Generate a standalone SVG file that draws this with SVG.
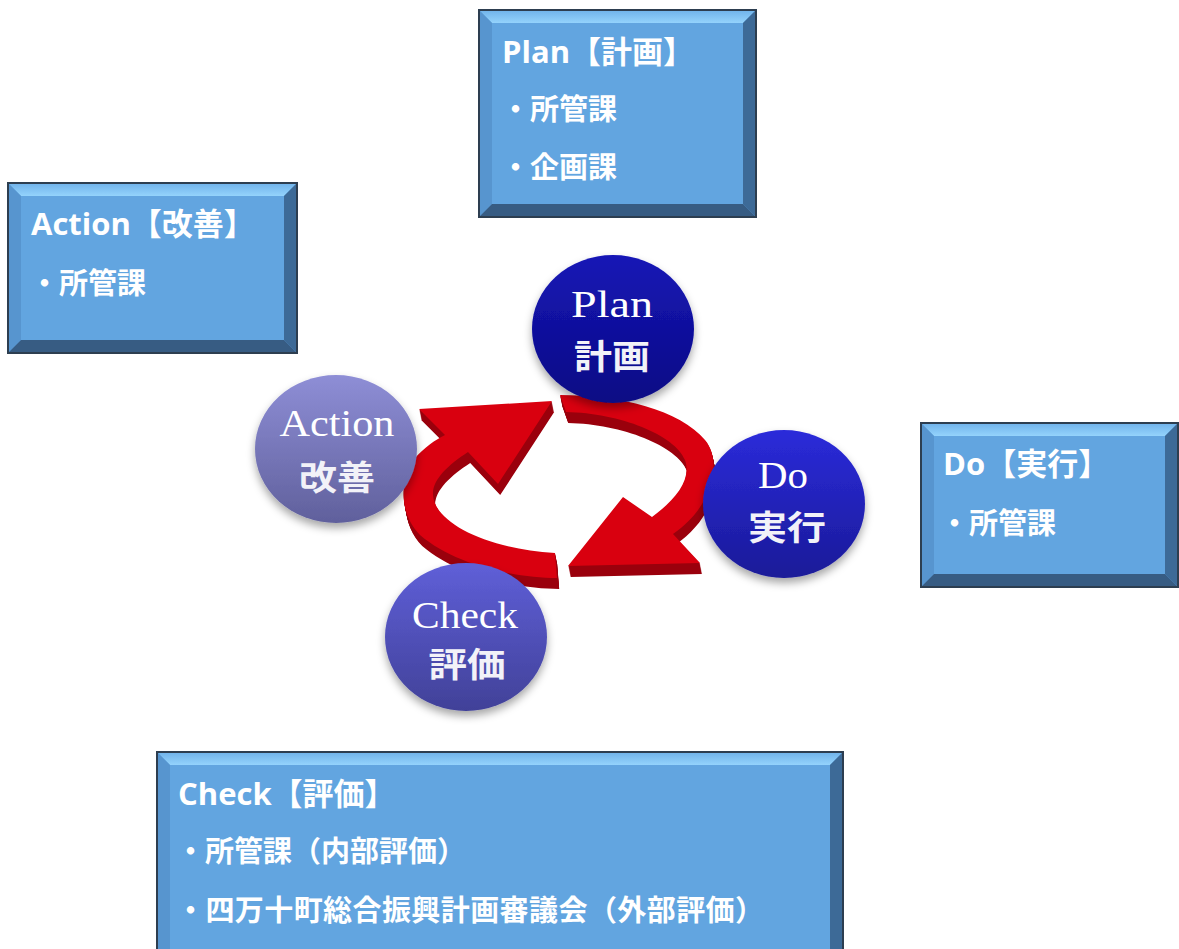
<svg xmlns="http://www.w3.org/2000/svg" width="1179" height="949" viewBox="0 0 1179 949">
<defs>
<style>
.face{fill:#62a5e0}
.btop{fill:url(#gTop)}
.bleft{fill:#5795cf}
.bright{fill:#3d6a97}
.bbot{fill:#375c83}
.bline{fill:none;stroke:#2d3e50;stroke-width:2}
.t1{font-family:"Open Sans","Noto Sans CJK JP",sans-serif;font-weight:700;font-size:31px;fill:#ffffff}
.t2{font-family:"Noto Sans CJK JP","Open Sans",sans-serif;font-weight:700;font-size:29px;fill:#ffffff}
.lat{font-family:"Liberation Serif","Noto Sans CJK JP",serif;font-size:37px;fill:#ffffff;text-anchor:middle}
.cjk{font-family:"Noto Sans CJK JP",sans-serif;font-weight:700;font-size:34px;fill:#f2f2f8;text-anchor:middle}
.red{fill:#d9000f}
.dark{fill:#9a000c}
</style>
<linearGradient id="gTop" x1="0" y1="0" x2="0" y2="1">
<stop offset="0" stop-color="#6fb2ea"/><stop offset="1" stop-color="#94d3fc"/>
</linearGradient>
<linearGradient id="gPlan" x1="0" y1="0" x2="0" y2="1">
<stop offset="0" stop-color="#1616b6"/><stop offset="1" stop-color="#0b0b84"/>
</linearGradient>
<linearGradient id="gAct" x1="0" y1="0" x2="0" y2="1">
<stop offset="0" stop-color="#8e8ed6"/><stop offset="1" stop-color="#60609c"/>
</linearGradient>
<linearGradient id="gDo" x1="0" y1="0" x2="0" y2="1">
<stop offset="0" stop-color="#2b2bda"/><stop offset="1" stop-color="#1a1a98"/>
</linearGradient>
<linearGradient id="gChk" x1="0" y1="0" x2="0" y2="1">
<stop offset="0" stop-color="#5f5fd8"/><stop offset="1" stop-color="#414198"/>
</linearGradient>
<filter id="sh" x="-20%" y="-20%" width="140%" height="150%">
<feDropShadow dx="0" dy="5" stdDeviation="4" flood-color="#000000" flood-opacity="0.35"/>
</filter>
<path id="arrowL" d="M555,553 L557,578 C515,578 455,565 420,535 C400,515 398,480 415,458 C425,447 435,440 445,435 L419,409 L552,401 L498,484 L468,452 C448,465 432,480 433,495 C434,520 480,548 555,553 Z"/>
<path id="arrowR" d="M560,395 C620,395 680,410 705,440 C722,460 715,505 673,534 L700,563 L568,566 L623,497 L652,517 C675,500 692,480 685,460 C675,435 620,413 566,412 Z"/>
<g id="extL" class="dark">
<use href="#arrowL" transform="translate(0.2,1)"/><use href="#arrowL" transform="translate(0.4,2)"/><use href="#arrowL" transform="translate(0.6,3)"/><use href="#arrowL" transform="translate(0.8,4)"/><use href="#arrowL" transform="translate(1,5)"/><use href="#arrowL" transform="translate(1.2,6)"/><use href="#arrowL" transform="translate(1.4,7)"/><use href="#arrowL" transform="translate(1.6,8)"/><use href="#arrowL" transform="translate(1.8,9)"/><use href="#arrowL" transform="translate(2,10)"/><use href="#arrowL" transform="translate(2.2,11)"/>
</g>
<g id="extR" class="dark">
<use href="#arrowR" transform="translate(0.2,1)"/><use href="#arrowR" transform="translate(0.4,2)"/><use href="#arrowR" transform="translate(0.6,3)"/><use href="#arrowR" transform="translate(0.8,4)"/><use href="#arrowR" transform="translate(1,5)"/><use href="#arrowR" transform="translate(1.2,6)"/><use href="#arrowR" transform="translate(1.4,7)"/><use href="#arrowR" transform="translate(1.6,8)"/><use href="#arrowR" transform="translate(1.8,9)"/><use href="#arrowR" transform="translate(2,10)"/><use href="#arrowR" transform="translate(2.2,11)"/>
</g>
</defs>
<rect width="1179" height="949" fill="#ffffff"/>

<g id="box-plan">
<rect class="face" x="479" y="10" width="277" height="207"/>
<polygon class="btop" points="479,10 756,10 743,23 492,23"/>
<polygon class="bleft" points="479,10 492,23 492,204 479,217"/>
<polygon class="bright" points="756,10 756,217 743,204 743,23"/>
<polygon class="bbot" points="479,217 756,217 743,204 492,204"/>
<rect class="bline" x="479" y="10" width="277" height="207"/>
<text class="t1" x="502" y="63">Plan【計画】</text>
<text class="t2" x="501" y="120">・所管課</text>
<text class="t2" x="501" y="178">・企画課</text>
</g>

<g id="box-action">
<rect class="face" x="8" y="183" width="289" height="170"/>
<polygon class="btop" points="8,183 297,183 284,196 21,196"/>
<polygon class="bleft" points="8,183 21,196 21,340 8,353"/>
<polygon class="bright" points="297,183 297,353 284,340 284,196"/>
<polygon class="bbot" points="8,353 297,353 284,340 21,340"/>
<rect class="bline" x="8" y="183" width="289" height="170"/>
<text class="t1" x="31" y="235">Action【改善】</text>
<text class="t2" x="30" y="294">・所管課</text>
</g>

<g id="box-do">
<rect class="face" x="921" y="423" width="257" height="164"/>
<polygon class="btop" points="921,423 1178,423 1165,436 934,436"/>
<polygon class="bleft" points="921,423 934,436 934,574 921,587"/>
<polygon class="bright" points="1178,423 1178,587 1165,574 1165,436"/>
<polygon class="bbot" points="921,587 1178,587 1165,574 934,574"/>
<rect class="bline" x="921" y="423" width="257" height="164"/>
<text class="t1" x="943" y="475">Do【実行】</text>
<text class="t2" x="940" y="534">・所管課</text>
</g>

<g id="box-check">
<rect class="face" x="157" y="752" width="686" height="210"/>
<polygon class="btop" points="157,752 843,752 830,765 170,765"/>
<polygon class="bleft" points="157,752 170,765 170,949 157,962"/>
<polygon class="bright" points="843,752 843,962 830,949 830,765"/>
<rect class="bline" x="157" y="752" width="686" height="210"/>
<text class="t1" x="178" y="805">Check【評価】</text>
<text class="t2" x="176" y="862">・所管課（内部評価）</text>
<text class="t2" x="176" y="921" textLength="588" lengthAdjust="spacing">・四万十町総合振興計画審議会（外部評価）</text>
</g>

<g id="connectors">
<use href="#extL"/>
<use href="#arrowL" class="red"/>
<use href="#extR"/>
<use href="#arrowR" class="red"/>
</g>

<g id="node-plan">
<ellipse cx="613" cy="329" rx="81" ry="74" fill="url(#gPlan)" filter="url(#sh)"/>
<text class="lat" x="612" y="317" textLength="82" lengthAdjust="spacingAndGlyphs">Plan</text>
<text class="cjk" x="612" y="369" textLength="76" lengthAdjust="spacingAndGlyphs">計画</text>
</g>
<g id="node-action">
<ellipse cx="336" cy="449" rx="81" ry="74" fill="url(#gAct)" filter="url(#sh)"/>
<text class="lat" x="337" y="436" textLength="115" lengthAdjust="spacingAndGlyphs">Action</text>
<text class="cjk" x="337" y="490" textLength="76" lengthAdjust="spacingAndGlyphs">改善</text>
</g>
<g id="node-do">
<ellipse cx="784" cy="504" rx="81" ry="74" fill="url(#gDo)" filter="url(#sh)"/>
<text class="lat" x="783" y="488" textLength="50" lengthAdjust="spacingAndGlyphs">Do</text>
<text class="cjk" x="787" y="540" textLength="78" lengthAdjust="spacingAndGlyphs">実行</text>
</g>
<g id="node-check">
<ellipse cx="466" cy="637" rx="81" ry="74" fill="url(#gChk)" filter="url(#sh)"/>
<text class="lat" x="465" y="628" textLength="106" lengthAdjust="spacingAndGlyphs">Check</text>
<text class="cjk" x="467" y="677" textLength="77" lengthAdjust="spacingAndGlyphs">評価</text>
</g>
</svg>
